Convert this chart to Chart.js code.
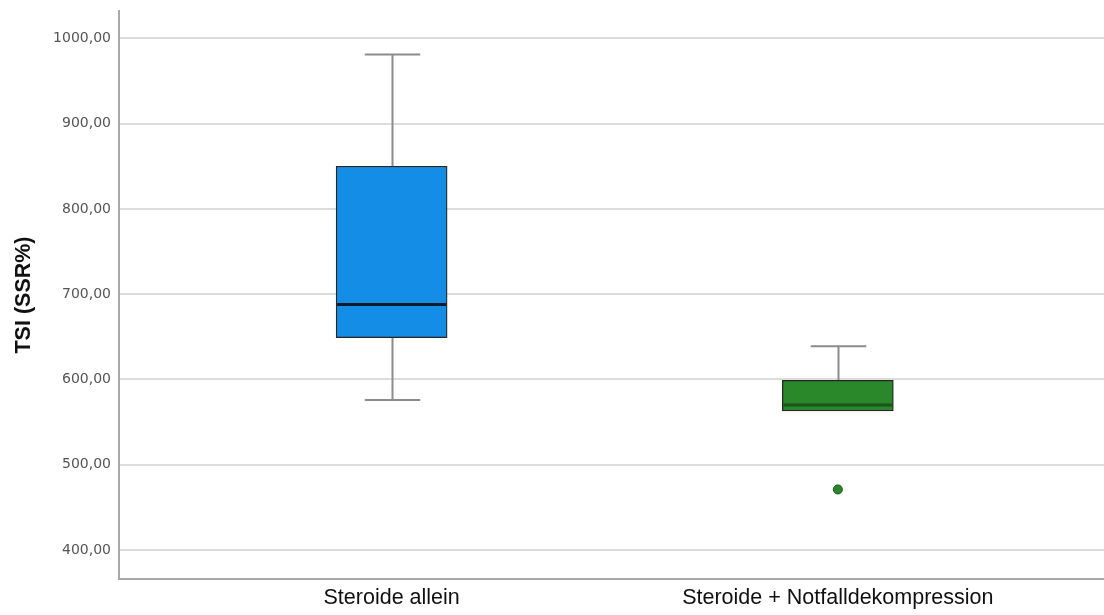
<!DOCTYPE html>
<html>
<head>
<meta charset="utf-8">
<script src="https://cdn.jsdelivr.net/npm/chart.js@4/dist/chart.umd.min.js"></script>
<style>
  html, body { margin: 0; padding: 0; background: #ffffff; }
  #wrap { width: 1104px; height: 615px; }
</style>
</head>
<body>
<div id="wrap"><canvas id="c" width="1104" height="615"></canvas></div>
<script>
// Groups and their box-plot statistics (TSI in SSR%)
const categories = ['Steroide allein', 'Steroide + Notfalldekompression'];
const whiskerLow  = [576, 563];
const quartile1   = [649, 563];
const medians     = [688, 570];
const quartile3   = [850, 599];
const whiskerHigh = [981, 639];
const outliers    = [[], [471]];
const yTicks      = [400, 500, 600, 700, 800, 900, 1000];

const boxFill    = ['#138de6', '#2a872a'];
const medianLine = ['#0c1c2a', '#1c541c'];

const positions = categories.map((_, i) => i + 1);

const boxData = positions.map((x, i) => ({ x: x, y: [quartile1[i], quartile3[i]] }));
const outlierData = [];
outliers.forEach((list, i) => list.forEach(v => outlierData.push({ x: positions[i], y: v })));

const fmt = v => v.toFixed(2).replace('.', ',');

// Whiskers (behind the boxes) and medians (on top), placed via the chart scales
const boxExtras = {
  id: 'boxExtras',
  beforeDatasetsDraw(chart) {
    const { ctx, scales: { x, y } } = chart;
    const meta = chart.getDatasetMeta(0);
    ctx.save();
    ctx.strokeStyle = '#8c8c8c';
    ctx.lineWidth = 2;
    positions.forEach((p, i) => {
      const cx = Math.round(x.getPixelForValue(p)) + 0.5;
      const capHalf = meta.data[i].width / 4;
      const yLo = y.getPixelForValue(whiskerLow[i]);
      const yHi = y.getPixelForValue(whiskerHigh[i]);
      const yQ1 = y.getPixelForValue(quartile1[i]);
      const yQ3 = y.getPixelForValue(quartile3[i]);
      ctx.beginPath();
      ctx.moveTo(cx, yQ3); ctx.lineTo(cx, yHi);
      ctx.moveTo(cx - capHalf, yHi); ctx.lineTo(cx + capHalf, yHi);
      if (whiskerLow[i] < quartile1[i]) {
        ctx.moveTo(cx, yQ1); ctx.lineTo(cx, yLo);
        ctx.moveTo(cx - capHalf, yLo); ctx.lineTo(cx + capHalf, yLo);
      }
      ctx.stroke();
    });
    ctx.restore();
  },
  afterDatasetsDraw(chart) {
    const { ctx, scales: { y } } = chart;
    const meta = chart.getDatasetMeta(0);
    ctx.save();
    ctx.lineWidth = 3;
    positions.forEach((p, i) => {
      const el = meta.data[i];
      const ym = y.getPixelForValue(medians[i]);
      ctx.strokeStyle = medianLine[i];
      ctx.beginPath();
      ctx.moveTo(el.x - el.width / 2 + 1, ym);
      ctx.lineTo(el.x + el.width / 2 - 1, ym);
      ctx.stroke();
    });
    ctx.restore();
  }
};

new Chart(document.getElementById('c'), {
  data: {
    datasets: [
      {
        type: 'bar',
        data: boxData,
        backgroundColor: boxFill,
        borderColor: '#262626',
        borderWidth: 1.3,
        borderSkipped: false,
        barThickness: 111
      },
      {
        type: 'scatter',
        data: outlierData,
        pointRadius: 4.5,
        pointBackgroundColor: '#2a872a',
        pointBorderColor: '#1c4f1c',
        pointBorderWidth: 1
      }
    ]
  },
  options: {
    responsive: false,
    animation: false,
    layout: { autoPadding: false, padding: { top: 11, right: 0, bottom: 0, left: 0 } },
    plugins: { legend: { display: false }, tooltip: { enabled: false } },
    scales: {
      x: {
        type: 'linear',
        offset: false,
        min: 0.389,
        max: 2.5965,
        afterBuildTicks(scale) { scale.ticks = positions.map(v => ({ value: v })); },
        afterFit(scale) {
          scale.height = 36;
          scale.paddingLeft = 0;
          scale.paddingRight = 0;
        },
        grid: { display: false, drawTicks: false, offset: false },
        border: { color: '#a8a8a8', width: 2 },
        ticks: {
          autoSkip: false,
          maxRotation: 0,
          padding: 6,
          color: '#111111',
          font: { family: 'Liberation Sans, Arial, sans-serif', size: 21.5 },
          callback: v => categories[Math.round(v) - 1]
        }
      },
      y: {
        type: 'linear',
        min: 366,
        max: 1032,
        afterBuildTicks(scale) { scale.ticks = yTicks.map(v => ({ value: v })); },
        afterFit(scale) {
          scale.width = 119;
          scale.paddingTop = 0;
          scale.paddingBottom = 0;
        },
        grid: { color: '#dcdcdc', lineWidth: 2, drawTicks: false },
        border: { color: '#a8a8a8', width: 2 },
        ticks: {
          padding: 8,
          color: '#555555',
          font: { family: 'DejaVu Sans, sans-serif', size: 14 },
          callback: v => fmt(v)
        },
        title: {
          display: true,
          text: 'TSI (SSR%)',
          color: '#111111',
          padding: { top: 11, bottom: 0 },
          font: { family: 'Liberation Sans, Arial, sans-serif', size: 21.5, weight: 'bold' }
        }
      }
    }
  },
  plugins: [boxExtras]
});
</script>
</body>
</html>
